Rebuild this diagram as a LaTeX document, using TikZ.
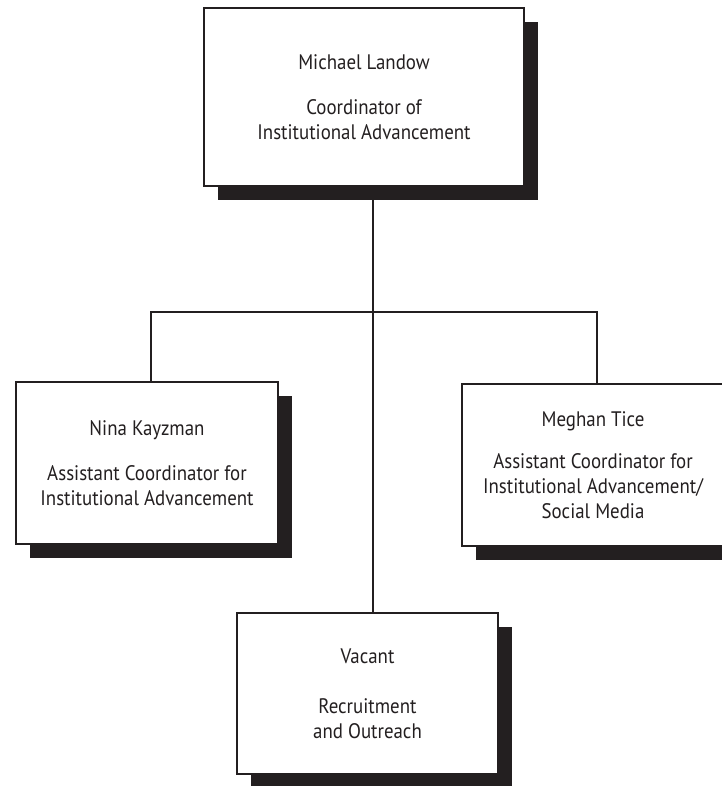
\documentclass[tikz,border=0pt]{standalone}
\usepackage{fontspec}
\setmainfont{PT Sans}[FakeStretch=0.9]
\usetikzlibrary{shadows}
\definecolor{ink}{HTML}{231F20}
\begin{document}
\begin{tikzpicture}[x=1pt,y=-1pt,
  box/.style={draw=ink, line width=2pt, fill=white, inner sep=0pt, align=center,
    anchor=north west, text=ink, font=\fontsize{21}{25}\selectfont,
    drop shadow={shadow xshift=14pt, shadow yshift=-14pt, opacity=1, fill=ink}},
  conn/.style={draw=ink, line width=2pt}]
\useasboundingbox (0,0) rectangle (721,786);
\node[box, minimum width=320pt, minimum height=178pt] (top) at (203,7)
  {Michael Landow\\[20pt]Coordinator of\\Institutional Advancement};
\node[box, minimum width=262pt, minimum height=162pt] (lft) at (15,381)
  {Nina Kayzman\\[20pt]Assistant Coordinator for\\Institutional Advancement};
\node[box, minimum width=262pt, minimum height=162pt] (rgt) at (461,383)
  {Meghan Tice\\[17pt]Assistant Coordinator for\\Institutional Advancement/\\Social Media};
\node[box, minimum width=261pt, minimum height=161pt] (bot) at (236,612)
  {Vacant\\[25pt]Recruitment\\and Outreach};
\coordinate (hub) at (373,312);
\coordinate (lj) at (151,312);
\coordinate (rj) at (597,312);
\draw[conn] (top.south -| hub) -- (bot.north -| hub);
\draw[conn] (lft.north -| lj) -- (lj) -- (rj) -- (rgt.north -| rj);
\end{tikzpicture}
\end{document}
